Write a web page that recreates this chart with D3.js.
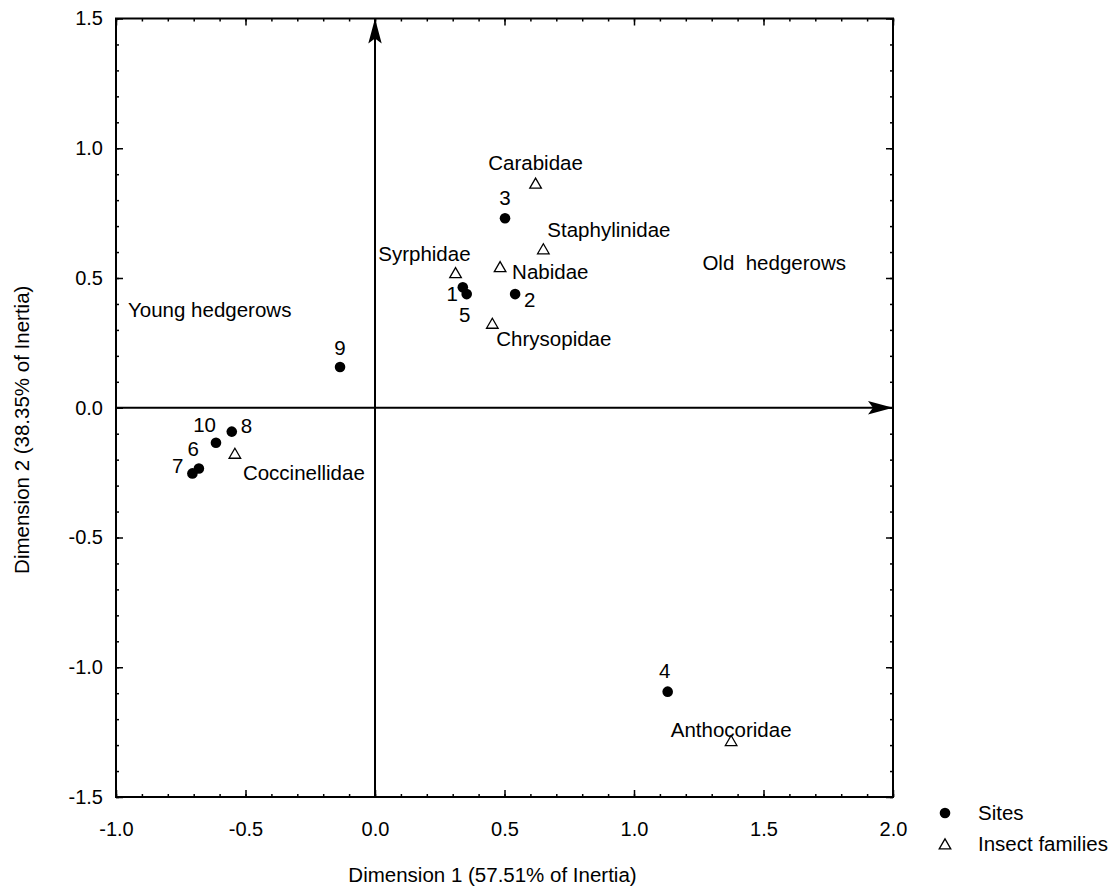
<!DOCTYPE html>
<html>
<head>
<meta charset="utf-8">
<script src="https://cdn.jsdelivr.net/npm/d3@7"></script>
<style>
	body { margin: 0; background: #fff; }
	svg { display: block; font-family: "Liberation Sans", Arial, sans-serif; }
	.tick text { font-size: 20px; fill: #000; }
	.lbl { font-size: 20.5px; fill: #000; }
</style>
</head>
<body>
<svg width="1114" height="888"></svg>
<script>
'use strict';

// sites (row points)
const siteLabels = ["1", "2", "3", "4", "5", "6", "7", "8", "9", "10"];
const siteDim1 = [0.339, 0.541, 0.502, 1.130, 0.354, -0.680, -0.705, -0.553, -0.135, -0.614];
const siteDim2 = [0.464, 0.438, 0.730, -1.094, 0.438, -0.234, -0.253, -0.092, 0.157, -0.135];

// insect families (column points)
const familyNames = ["Carabidae", "Staphylinidae", "Syrphidae", "Nabidae", "Chrysopidae", "Coccinellidae", "Anthocoridae"];
const familyDim1 = [0.620, 0.650, 0.311, 0.483, 0.453, -0.541, 1.375];
const familyDim2 = [0.865, 0.612, 0.520, 0.543, 0.325, -0.176, -1.283];

const xTicks = [-1.0, -0.5, 0.0, 0.5, 1.0, 1.5, 2.0];
const yTicks = [-1.5, -1.0, -0.5, 0.0, 0.5, 1.0, 1.5];

// label placement (anchor, dx, dy in px) relative to each mark
const siteLabelPos = [
	["end", -5, 14], ["start", 9, 13], ["middle", 0, -13], ["middle", -3, -14], ["middle", -2, 28],
	["end", 0, -12], ["end", -9, 0], ["start", 9, 1], ["middle", 0, -12], ["end", 0, -11]
];
const familyLabelPos = [
	["middle", 0, -13], ["start", 4, -12], ["end", 15, -12], ["start", 12, 12],
	["start", 4, 23], ["start", 8, 27], ["middle", 0, -4]
];

const svg = d3.select("svg");
const x = d3.scaleLinear().domain([-1, 2]).range([116, 893]);
const y = d3.scaleLinear().domain([-1.5, 1.5]).range([797, 18.5]);
const minor = d3.range(-15, 21).map(d => d / 10);
const fmt = d => d3.format(".1f")(d).replace("\u2212", "-");

function styleAxis(g) {
	g.select(".domain").remove();
	g.selectAll("line").attr("stroke", "#000").attr("stroke-width", 1.5);
}

// bottom / left with labels, top / right ticks only; all ticks point inward
svg.append("g").attr("transform", `translate(0,${y(-1.5)})`)
	.call(d3.axisBottom(x).tickValues(minor.filter(d => d >= -1)).tickSize(-3).tickFormat(""))
	.call(styleAxis);
svg.append("g").attr("transform", `translate(0,${y(-1.5)})`)
	.call(d3.axisBottom(x).tickValues(xTicks).tickSize(-7).tickPadding(25).tickFormat(fmt))
	.call(styleAxis);
svg.append("g").attr("transform", `translate(0,${y(1.5)})`)
	.call(d3.axisTop(x).tickValues(minor.filter(d => d >= -1)).tickSize(-3).tickFormat(""))
	.call(styleAxis);
svg.append("g").attr("transform", `translate(0,${y(1.5)})`)
	.call(d3.axisTop(x).tickValues(xTicks).tickSize(-7).tickFormat(""))
	.call(styleAxis);

svg.append("g").attr("transform", `translate(${x(-1)},0)`)
	.call(d3.axisLeft(y).tickValues(minor.filter(d => d <= 1.5)).tickSize(-3).tickFormat(""))
	.call(styleAxis);
svg.append("g").attr("transform", `translate(${x(-1)},0)`)
	.call(d3.axisLeft(y).tickValues(yTicks).tickSize(-7).tickPadding(13).tickFormat(fmt))
	.call(styleAxis);
svg.append("g").attr("transform", `translate(${x(2)},0)`)
	.call(d3.axisRight(y).tickValues(minor.filter(d => d <= 1.5)).tickSize(-3).tickFormat(""))
	.call(styleAxis);
svg.append("g").attr("transform", `translate(${x(2)},0)`)
	.call(d3.axisRight(y).tickValues(yTicks).tickSize(-7).tickFormat(""))
	.call(styleAxis);

svg.selectAll(".tick text").attr("font-family", null).attr("font-size", null);

// frame
svg.append("rect")
	.attr("x", x(-1)).attr("y", y(1.5))
	.attr("width", x(2) - x(-1)).attr("height", y(-1.5) - y(1.5))
	.attr("fill", "none").attr("stroke", "#000").attr("stroke-width", 2);

// axes through origin with barbed arrow heads
const defs = svg.append("defs");
defs.append("marker")
	.attr("id", "arrow").attr("viewBox", "0 -7 25 14")
	.attr("refX", 25).attr("refY", 0)
	.attr("markerWidth", 25).attr("markerHeight", 14)
	.attr("markerUnits", "userSpaceOnUse").attr("orient", "auto")
	.append("path").attr("d", "M0,-6.7L25,0L0,6.7L5,0Z").attr("fill", "#000");

svg.append("line")
	.attr("x1", x(-1)).attr("x2", x(2)).attr("y1", y(0)).attr("y2", y(0))
	.attr("stroke", "#000").attr("stroke-width", 2).attr("marker-end", "url(#arrow)");
svg.append("line")
	.attr("x1", x(0)).attr("x2", x(0)).attr("y1", y(-1.5)).attr("y2", y(1.5))
	.attr("stroke", "#000").attr("stroke-width", 2).attr("marker-end", "url(#arrow)");

// sites
const sites = siteLabels.map((s, i) => ({ label: s, d1: siteDim1[i], d2: siteDim2[i], pos: siteLabelPos[i] }));
svg.append("g").selectAll("circle").data(sites).enter().append("circle")
	.attr("cx", d => x(d.d1)).attr("cy", d => y(d.d2)).attr("r", 5.3).attr("fill", "#000");
svg.append("g").selectAll("text").data(sites).enter().append("text")
	.attr("class", "lbl")
	.attr("x", d => x(d.d1) + d.pos[1]).attr("y", d => y(d.d2) + d.pos[2])
	.attr("text-anchor", d => d.pos[0])
	.text(d => d.label);

// insect families
const tri = d3.symbol().type(d3.symbolTriangle).size(58);
const families = familyNames.map((s, i) => ({ label: s, d1: familyDim1[i], d2: familyDim2[i], pos: familyLabelPos[i] }));
svg.append("g").selectAll("path").data(families).enter().append("path")
	.attr("d", tri)
	.attr("transform", d => `translate(${x(d.d1)},${y(d.d2) + 1.5})`)
	.attr("fill", "#fff").attr("stroke", "#000").attr("stroke-width", 1.3);
svg.append("g").selectAll("text").data(families).enter().append("text")
	.attr("class", "lbl")
	.attr("x", d => x(d.d1) + d.pos[1]).attr("y", d => y(d.d2) + d.pos[2])
	.attr("text-anchor", d => d.pos[0])
	.text(d => d.label);

// group annotations
svg.append("text").attr("class", "lbl").attr("x", 128).attr("y", 317).text("Young hedgerows");
svg.append("text").attr("class", "lbl").attr("x", 846).attr("y", 270)
	.attr("text-anchor", "end").style("white-space", "pre").text("Old  hedgerows");

// axis titles
svg.append("text").attr("class", "lbl")
	.attr("x", (x(-1) + x(2)) / 2 - 12).attr("y", 882).attr("text-anchor", "middle")
	.text("Dimension 1 (57.51% of Inertia)");
svg.append("text").attr("class", "lbl")
	.attr("transform", `translate(29,${(y(1.5) + y(-1.5)) / 2 + 22}) rotate(-90)`)
	.attr("text-anchor", "middle")
	.text("Dimension 2 (38.35% of Inertia)");

// legend
const legend = svg.append("g").attr("transform", "translate(945,813)");
legend.append("circle").attr("r", 5.3).attr("fill", "#000");
legend.append("text").attr("class", "lbl").attr("x", 33).attr("y", 7).text("Sites");
legend.append("path").attr("d", tri).attr("transform", "translate(0,32.5)")
	.attr("fill", "#fff").attr("stroke", "#000").attr("stroke-width", 1.3);
legend.append("text").attr("class", "lbl").attr("x", 33).attr("y", 38).text("Insect families");
</script>
</body>
</html>
